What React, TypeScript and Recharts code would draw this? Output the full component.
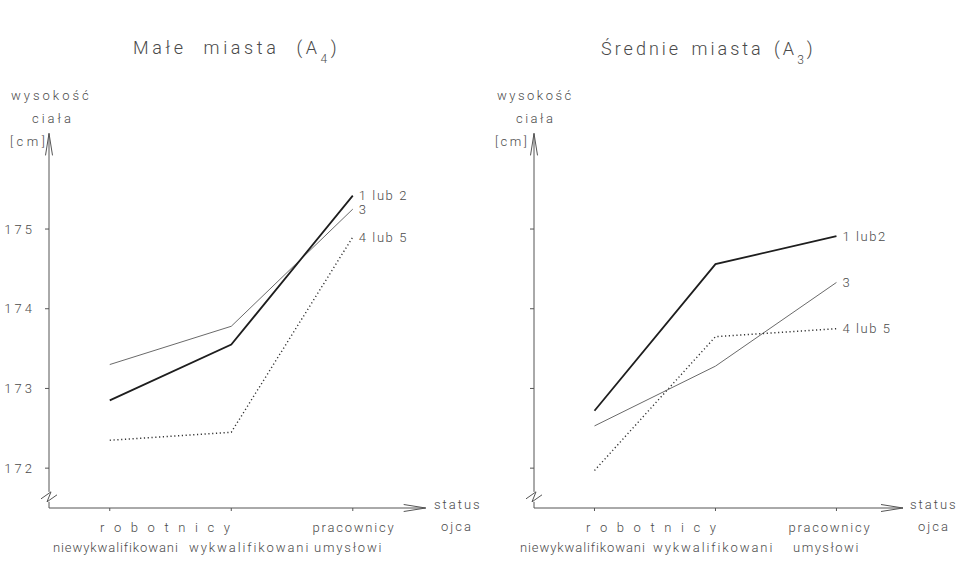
import React from 'react';
import { LineChart, Line, XAxis, YAxis, ReferenceDot } from 'recharts';

// categories (father's status)
const categories = ['robotnicy niewykwalifikowani', 'robotnicy wykwalifikowani', 'pracownicy umysłowi'];
const xTicks = [0, 1, 2];
const yTicks = [172, 173, 174, 175];

// Małe miasta (A4) – body height [cm]
const small12 = [172.85, 173.55, 175.42];
const small3 = [173.3, 173.78, 175.25];
const small45 = [172.35, 172.45, 174.9];

// Średnie miasta (A3) – body height [cm]
const medium12 = [172.72, 174.56, 174.91];
const medium3 = [172.53, 173.28, 174.33];
const medium45 = [171.97, 173.65, 173.75];

const smallNames = ['1 lub 2', '3', '4 lub 5'];
const mediumNames = ['1 lub2', '3', '4 lub 5'];

const buildRows = (a: number[], b: number[], c: number[]) =>
  categories.map((cat, i) => ({ x: i, cat, g12: a[i], g3: b[i], g45: c[i] }));

const smallRows = buildRows(small12, small3, small45);
const mediumRows = buildRows(medium12, medium3, medium45);

const FONT = 'Roboto, "DejaVu Sans", sans-serif';
const INK = '#4a4a4a';
const AXIS = '#555';

const endLabel = (name: string) => (props: any) => {
  if (props.index !== 2) return null;
  return (
    <text
      x={props.x + 6}
      y={props.y}
      dy={4.5}
      fontSize={13}
      fontFamily={FONT}
      fontWeight={300}
      fill={INK}
      style={{ letterSpacing: 1.6 }}
    >
      {name}
    </text>
  );
};

const breakShape = (props: any) => {
  const { cx, cy } = props;
  return (
    <g>
      <line x1={cx} y1={cy - 5} x2={cx} y2={cy + 5} stroke="#fff" strokeWidth={3} />
      <path
        d={`M${cx - 8},${cy + 2} L${cx + 2},${cy - 5} L${cx - 2},${cy + 5} L${cx + 8},${cy - 2}`}
        fill="none"
        stroke={AXIS}
        strokeWidth={1}
      />
    </g>
  );
};

type PanelProps = {
  rows: any[];
  names: string[];
  left: number;
  yAxisWidth: number;
  right: number;
  xDomain: [number, number];
  showYLabels: boolean;
};

const Panel = ({ rows, names, left, yAxisWidth, right, xDomain, showYLabels }: PanelProps) => (
  <div style={{ position: 'absolute', left, top: 0 }}>
    <LineChart width={483} height={562} data={rows} margin={{ top: 133.4, right, bottom: 0, left: 0 }}>
      <XAxis
        type="number"
        dataKey="x"
        domain={xDomain}
        ticks={xTicks}
        height={54}
        tickSize={3}
        tickFormatter={() => ''}
        stroke={AXIS}
        axisLine={{ stroke: AXIS, strokeWidth: 1, markerEnd: 'url(#arrowHead)' }}
        tickLine={{ stroke: AXIS }}
        allowDataOverflow
      />
      <YAxis
        type="number"
        domain={[171.5, 176.2]}
        ticks={yTicks}
        width={yAxisWidth}
        tickSize={4}
        tickMargin={10}
        tickFormatter={(v: number) => (showYLabels ? String(v) : '')}
        tick={{ fontSize: 13, fontFamily: FONT, fontWeight: 300, fill: INK, style: { letterSpacing: 3 } } as any}
        stroke={AXIS}
        axisLine={{ stroke: AXIS, strokeWidth: 1, markerStart: 'url(#arrowHead)' }}
        tickLine={{ stroke: AXIS }}
        allowDataOverflow
      />
      <ReferenceDot x={xDomain[0]} y={171.64} r={0} ifOverflow="visible" shape={breakShape} />
      <Line
        dataKey="g3"
        stroke="#6a6a6a"
        strokeWidth={1}
        dot={false}
        isAnimationActive={false}
        label={endLabel(names[1])}
      />
      <Line
        dataKey="g12"
        stroke="#1e1e1e"
        strokeWidth={1.8}
        dot={false}
        isAnimationActive={false}
        label={endLabel(names[0])}
      />
      <Line
        dataKey="g45"
        stroke="#333"
        strokeWidth={1.4}
        strokeDasharray="1.2 2.6"
        dot={false}
        isAnimationActive={false}
        label={endLabel(names[2])}
      />
    </LineChart>
  </div>
);

const T = ({ x, y, children, size = 13, ls = 2, anchor = 'start' }: any) => (
  <text
    x={x}
    y={y}
    fontSize={size}
    fontFamily={FONT}
    fontWeight={300}
    fill={INK}
    textAnchor={anchor}
    style={{ letterSpacing: ls }}
  >
    {children}
  </text>
);

export default function App() {
  return (
    <div style={{ position: 'absolute', left: 0, top: 0, width: 966, height: 562, background: '#fff', overflow: 'hidden' }}>
      <svg width={0} height={0} style={{ position: 'absolute' }}>
        <defs>
          <marker
            id="arrowHead"
            markerUnits="userSpaceOnUse"
            markerWidth={30}
            markerHeight={12}
            refX={0}
            refY={0}
            orient="auto-start-reverse"
            overflow="visible"
          >
            <path d="M-22,-3.5 L0,0 L-22,3.5" fill="none" stroke={AXIS} strokeWidth={1} />
          </marker>
        </defs>
      </svg>
      <Panel
        rows={smallRows}
        names={smallNames}
        left={0}
        yAxisWidth={49}
        right={57.3}
        xDomain={[-0.5, 2.6]}
        showYLabels={true}
      />
      <Panel
        rows={mediumRows}
        names={mediumNames}
        left={483}
        yAxisWidth={51}
        right={63}
        xDomain={[-0.5, 2.55]}
        showYLabels={false}
      />
      <svg width={966} height={562} style={{ position: 'absolute', left: 0, top: 0, pointerEvents: 'none' }}>
        <text
          x={133}
          y={54}
          fontSize={18}
          fontFamily={FONT}
          fontWeight={300}
          fill={INK}
          style={{ letterSpacing: 3.6, wordSpacing: 9 }}
        >
          Małe miasta (A<tspan fontSize={12} dy={9}>4</tspan><tspan dy={-9}>)</tspan>
        </text>
        <text
          x={601}
          y={55}
          fontSize={18}
          fontFamily={FONT}
          fontWeight={300}
          fill={INK}
          style={{ letterSpacing: 3, wordSpacing: 3 }}
        >
          Średnie miasta (A<tspan fontSize={12} dy={9}>3</tspan><tspan dy={-9}>)</tspan>
        </text>

        <T x={11} y={100} ls={3}>wysokość</T>
        <T x={32} y={123} ls={3}>ciała</T>
        <T x={10} y={146} ls={3.5}>[cm]</T>
        <T x={497} y={100} ls={2.5}>wysokość</T>
        <T x={516} y={123} ls={2.5}>ciała</T>
        <T x={495} y={146} ls={2.5}>[cm]</T>

        <T x={434} y={509}>status</T>
        <T x={441} y={531}>ojca</T>
        <T x={910} y={509}>status</T>
        <T x={918} y={531}>ojca</T>

        <T x={100} y={532} ls={3.2}>r o b o t n i c y</T>
        <T x={354} y={532} anchor="middle" ls={1.8}>pracownicy</T>
        <T x={53} y={552} ls={0.9}>niewykwalifikowani</T>
        <T x={189} y={552} ls={1.9}>wykwalifikowani</T>
        <T x={314} y={552} ls={1.8}>umysłowi</T>

        <T x={586} y={532} ls={3.2}>r o b o t n i c y</T>
        <T x={830} y={532} anchor="middle" ls={1.8}>pracownicy</T>
        <T x={520} y={552} ls={0.9}>niewykwalifikowani</T>
        <T x={653} y={552} ls={1.9}>wykwalifikowani</T>
        <T x={793} y={552} ls={1.5}>umysłowi</T>
      </svg>
    </div>
  );
}
